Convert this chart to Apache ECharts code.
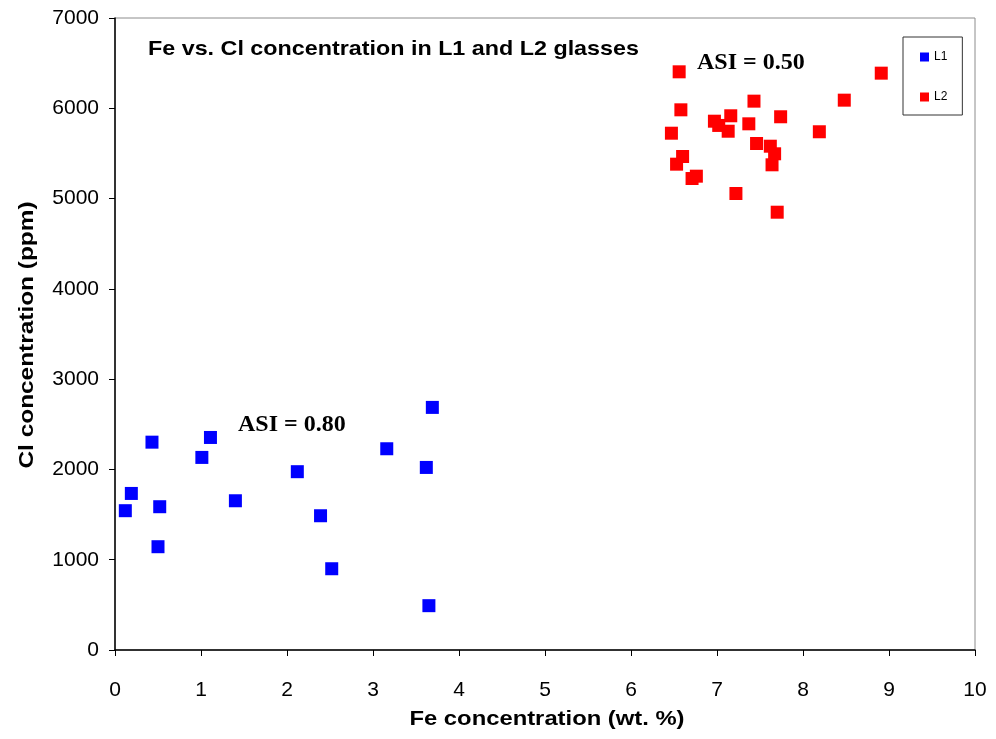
<!DOCTYPE html>
<html>
<head>
<meta charset="utf-8">
<script src="https://cdn.jsdelivr.net/npm/echarts@6/dist/echarts.min.js"></script>
<style>
    html, body { margin: 0; padding: 0; background: #fff; }
    #chart { width: 996px; height: 739px; }
</style>
</head>
<body>
<div id="chart"></div>
<script>
// L1 glasses: Fe (wt. %) / Cl (ppm)
var l1Fe = [0.12, 0.19, 0.43, 0.50, 0.52, 1.01, 1.11, 1.40, 2.12, 2.39, 2.52, 3.16, 3.62, 3.65, 3.69]
var l1Cl = [1543, 1734, 2302, 1144, 1587, 2133, 2354, 1653, 1975, 1487, 900, 2229, 2022, 491, 2687]
// L2 glasses
var l2Fe = [6.56, 8.91, 7.43, 8.48, 6.58, 6.97, 7.16, 7.02, 7.13, 7.37, 7.74, 6.47, 8.19, 7.46, 7.62, 7.67, 7.64, 6.60, 6.53, 6.76, 6.71, 7.22, 7.70]
var l2Cl = [6404, 6389, 6079, 6090, 5983, 5857, 5917, 5810, 5746, 5828, 5906, 5724, 5740, 5610, 5580, 5496, 5374, 5466, 5381, 5248, 5222, 5056, 4849]
var xTicks = [0, 10, 1] // min, max, interval
var yTicks = [0, 7000, 1000]

function pairs(xs, ys) {
    var out = []
    for (var i = 0; i < xs.length; i++) out.push([xs[i], ys[i]])
    return out
}

var font = '"Liberation Sans", Arial, sans-serif'
var serif = '"Liberation Serif", "Times New Roman", serif'
var chart = echarts.init(document.getElementById('chart'))

chart.setOption({
    animation: false,
    backgroundColor: '#fff',
    grid: {
        left: 115, right: 21, top: 18, bottom: 89,
        show: true, borderColor: '#8c8c8c', borderWidth: 1
    },
    legend: {
        orient: 'vertical',
        left: 903, top: 37,
        padding: [14, 15, 12, 17],
        itemGap: 28,
        itemWidth: 9, itemHeight: 9,
        itemTextGap: 3,
        icon: 'rect',
        borderColor: '#333', borderWidth: 1,
        textStyle: { fontFamily: font, fontSize: 12, color: '#000' },
        data: ['L1', 'L2']
    },
    xAxis: {
        type: 'value',
        min: xTicks[0], max: xTicks[1], interval: xTicks[2],
        axisLine: { lineStyle: { color: '#000', width: 1.5 } },
        axisTick: { inside: false, length: 6, lineStyle: { color: '#000' } },
        axisLabel: { margin: 30, fontFamily: font, fontSize: 21, color: '#000' },
        splitLine: { show: false }
    },
    yAxis: {
        type: 'value',
        min: yTicks[0], max: yTicks[1], interval: yTicks[2],
        axisLine: { show: true, lineStyle: { color: '#000', width: 1.5 } },
        axisTick: { show: true, inside: false, length: 6, lineStyle: { color: '#000' } },
        axisLabel: {
            margin: 16, fontFamily: font, fontSize: 21, color: '#000',
            formatter: function(v) { return String(v) }
        },
        splitLine: { show: false }
    },
    graphic: [
        {
            type: 'text', x: 148, y: 49, scaleX: 1.11,
            style: { text: 'Fe vs. Cl concentration in L1 and L2 glasses', font: 'bold 21px ' + font, fill: '#000', align: 'left', verticalAlign: 'middle' }
        },
        // axis titles, stretched like the original
        {
            type: 'text', x: 547, y: 719, scaleX: 1.19,
            style: { text: 'Fe concentration (wt. %)', font: 'bold 20px ' + font, fill: '#000', align: 'center', verticalAlign: 'middle' }
        },
        {
            type: 'text', x: 27, y: 335, rotation: Math.PI / 2, scaleX: 1.22,
            style: { text: 'Cl concentration (ppm)', font: 'bold 20px ' + font, fill: '#000', align: 'center', verticalAlign: 'middle' }
        },
        {
            type: 'text', x: 238, y: 425,
            style: { text: 'ASI = 0.80', font: 'bold 24px ' + serif, fill: '#000', align: 'left', verticalAlign: 'middle' }
        },
        {
            type: 'text', x: 697, y: 63,
            style: { text: 'ASI = 0.50', font: 'bold 24px ' + serif, fill: '#000', align: 'left', verticalAlign: 'middle' }
        }
    ],
    series: [
        {
            name: 'L1', type: 'scatter', symbol: 'rect', symbolSize: 13,
            itemStyle: { color: '#0000ff', opacity: 1 },
            data: pairs(l1Fe, l1Cl)
        },
        {
            name: 'L2', type: 'scatter', symbol: 'rect', symbolSize: 13,
            itemStyle: { color: '#ff0000', opacity: 1 },
            data: pairs(l2Fe, l2Cl)
        }
    ]
})
</script>
</body>
</html>
